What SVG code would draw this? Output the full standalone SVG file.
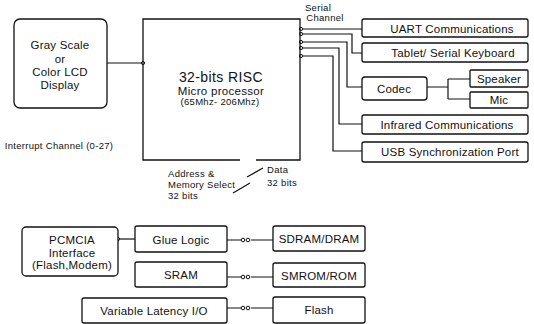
<svg xmlns="http://www.w3.org/2000/svg" width="534" height="324" viewBox="0 0 534 324">
<style>
.box{fill:#fff;stroke:#111;stroke-width:1.3}
.ln{fill:none;stroke:#111;stroke-width:1.2}
.dot{fill:#fff;stroke:#111;stroke-width:1}
text{font-family:"Liberation Sans",Arial,sans-serif;fill:#111;text-anchor:middle;dominant-baseline:central}
.lb{font-size:11.5px;letter-spacing:0.2px}
.sm{font-size:9.5px;letter-spacing:0.3px}
</style>
<rect width="534" height="324" fill="#fff"/>
<g id="connectors">
<path class="ln" d="M107 63 H143"/>
<path class="ln" d="M301 29 H362"/>
<path class="ln" d="M301 34 H352 V53 H362"/>
<path class="ln" d="M301 42 H347 V87 H362"/>
<path class="ln" d="M301 48 H339 V124 H362"/>
<path class="ln" d="M301 56 H333 V151 H362"/>
<path class="ln" d="M427 87 H448 M448 79 V99 M448 79 H470 M448 99 H470"/>
<path class="ln" d="M118 239 H135"/>
<path class="ln" d="M227 240 H241 M251 240 H273"/>
<path class="ln" d="M227 277 H241 M251 277 H273"/>
<path class="ln" d="M227 308 H241 M251 308 H273"/>
<path class="ln" d="M247 177 L263 168 M233 193 L250 183"/>
<g class="dot">
<circle cx="143" cy="63" r="1.6"/>
<circle cx="301" cy="29" r="1.6"/>
<circle cx="301" cy="34" r="1.6"/>
<circle cx="301" cy="42" r="1.6"/>
<circle cx="301" cy="48" r="1.6"/>
<circle cx="301" cy="56" r="1.6"/>
<circle cx="118" cy="239" r="1.6"/>
<circle cx="243" cy="240" r="1.8"/><circle cx="248" cy="240" r="1.8"/>
<circle cx="243" cy="277" r="1.8"/><circle cx="248" cy="277" r="1.8"/>
<circle cx="243" cy="308" r="1.8"/><circle cx="248" cy="308" r="1.8"/>
</g>
</g>
<g id="display">
<rect class="box" x="14" y="19" width="93" height="89" rx="6"/>
<text class="lb" x="60" y="45">Gray Scale</text>
<text class="lb" x="60" y="59">or</text>
<text class="lb" x="60" y="72">Color LCD</text>
<text class="lb" x="60" y="85">Display</text>
</g>
<g id="processor">
<path class="ln" d="M240 160 H143 V19 H300 V160 H256" style="stroke-width:1.3"/>
<text x="221" y="77" style="font-size:14px;letter-spacing:0.4px">32-bits RISC</text>
<text x="221" y="90.5" style="font-size:11.5px;letter-spacing:0.3px">Micro processor</text>
<text x="220" y="101.5" style="font-size:9.5px;letter-spacing:0.3px">(65Mhz- 206Mhz)</text>
</g>
<g id="labels">
<text class="sm" x="318" y="7">Serial</text>
<text class="sm" x="325" y="17">Channel</text>
<text class="sm" x="59" y="145">Interrupt Channel (0-27)</text>
<text class="sm" x="168" y="173" style="text-anchor:start">Address &amp;</text>
<text class="sm" x="168" y="184" style="text-anchor:start">Memory Select</text>
<text class="sm" x="168" y="195" style="text-anchor:start">32 bits</text>
<text class="sm" x="267" y="169" style="text-anchor:start">Data</text>
<text class="sm" x="267" y="182" style="text-anchor:start">32 bits</text>
</g>
<g id="uart">
<rect class="box" x="362" y="19" width="166" height="18" rx="2"/>
<text class="lb" x="452" y="28.5">UART Communications</text>
</g>
<g id="tablet">
<rect class="box" x="362" y="43" width="166" height="19" rx="2"/>
<text class="lb" x="453" y="53">Tablet/ Serial Keyboard</text>
</g>
<g id="codec">
<rect class="box" x="362" y="77" width="65" height="23" rx="3"/>
<text class="lb" x="394" y="88.5">Codec</text>
</g>
<g id="speaker">
<rect class="box" x="470" y="70" width="58" height="17" rx="1"/>
<text class="lb" x="499" y="78.5">Speaker</text>
</g>
<g id="mic">
<rect class="box" x="470" y="92" width="58" height="16" rx="1"/>
<text class="lb" x="499" y="100">Mic</text>
</g>
<g id="infrared">
<rect class="box" x="362" y="115" width="166" height="19" rx="2"/>
<text class="lb" x="447" y="124.5">Infrared Communications</text>
</g>
<g id="usb">
<rect class="box" x="362" y="142" width="166" height="20" rx="2"/>
<text class="lb" x="450" y="152">USB Synchronization Port</text>
</g>
<g id="pcmcia">
<rect class="box" x="22" y="227" width="96" height="49" rx="4"/>
<text class="lb" x="72" y="240">PCMCIA</text>
<text class="lb" x="72" y="253">Interface</text>
<text class="lb" x="72" y="265">(Flash,Modem)</text>
</g>
<g id="glue">
<rect class="box" x="135" y="226" width="92" height="26" rx="2"/>
<text class="lb" x="181" y="239.5">Glue Logic</text>
</g>
<g id="sram">
<rect class="box" x="135" y="262" width="92" height="25" rx="2"/>
<text class="lb" x="181" y="275">SRAM</text>
</g>
<g id="varlat">
<rect class="box" x="82" y="298" width="145" height="25" rx="2"/>
<text class="lb" x="154" y="310.5">Variable Latency I/O</text>
</g>
<g id="sdram">
<rect class="box" x="273" y="226" width="92" height="25" rx="2"/>
<text class="lb" x="319" y="239">SDRAM/DRAM</text>
</g>
<g id="smrom">
<rect class="box" x="273" y="263" width="92" height="24" rx="2"/>
<text class="lb" x="319" y="275.5">SMROM/ROM</text>
</g>
<g id="flash">
<rect class="box" x="273" y="297" width="92" height="26" rx="2"/>
<text class="lb" x="319" y="310">Flash</text>
</g>
</svg>
